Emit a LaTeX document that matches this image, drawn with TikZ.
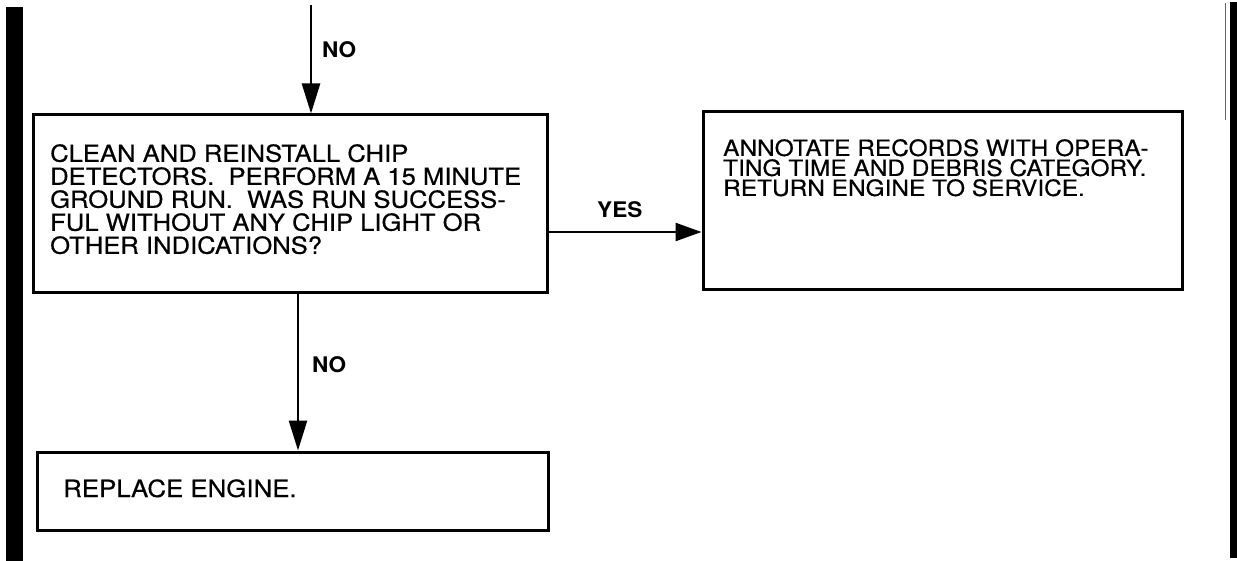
\documentclass[tikz,border=0pt]{standalone}
\usepackage{fontspec}
\setmainfont{TeX Gyre Heros}
\newfontfamily\boxfont{TeX Gyre Heros}[FakeStretch=1.09, FakeBold=0.5]
\newfontfamily\lblfont{TeX Gyre Heros Bold}[FakeStretch=1.05]
\usetikzlibrary{arrows.meta}
\tikzset{
  box/.style={draw, line width=3pt, inner sep=0pt},
  txt/.style={inner sep=0pt, align=left},
  lbl/.style={inner sep=0pt, font=\lblfont\fontsize{21.5}{21}\selectfont},
  arr/.style={line width=2.5pt, -{Triangle[length=30pt,width=18pt]}},
}
\begin{document}
\begin{tikzpicture}[x=1pt,y=-1pt]
\useasboundingbox (0,0) rectangle (1237,561);
% side bars
\fill (6,7) rectangle (23,561);
\fill (1230,2) rectangle (1237,558);
\draw[line width=0.8pt, black!60] (1225,3) -- (1225,120);
% boxes
\node[box, minimum width=514pt, minimum height=178pt] (b1) at (290,204) {};
\node[box, minimum width=479pt, minimum height=178pt] (b2) at (942.5,201) {};
\node[box, minimum width=511pt, minimum height=78pt] (b3) at (292.5,491) {};
% texts
\node[txt, anchor=north west, font=\boxfont\fontsize{23.5}{23}\selectfont] (t1) at (50,144)
 {CLEAN AND REINSTALL CHIP\\DETECTORS.\ \ PERFORM A 15 MINUTE\\GROUND RUN.\ \ WAS RUN SUCCESS-\\FUL WITHOUT ANY CHIP LIGHT OR\\OTHER INDICATIONS?};
\node[txt, anchor=north west, font=\boxfont\fontsize{22.4}{20}\selectfont] (t2) at (723,139)
 {ANNOTATE RECORDS WITH OPERA-\\TING TIME AND DEBRIS CATEGORY.\\RETURN ENGINE TO SERVICE.};
\node[txt, anchor=base west, font=\boxfont\fontsize{23.7}{20}\selectfont] (t3) at (63,497) {REPLACE ENGINE.};
% connectors
\coordinate (top) at (311,5);
\draw[arr] (top) -- (top |- b1.north);
\draw[arr] ([xshift=8pt]b1.south) -- ([xshift=8pt]b1.south |- b3.north);
\draw[arr, -{Triangle[length=26pt,width=18pt]}] ([yshift=-28pt]b1.east) -- ([yshift=-28pt]b1.east -| b2.west);
% labels
\node[lbl, anchor=base west] (no1) at (322,58) {NO};
\node[lbl, anchor=base west] (no2) at (312,372) {NO};
\node[lbl, anchor=base west] (yes) at (597,218) {YES};
\end{tikzpicture}
\end{document}
